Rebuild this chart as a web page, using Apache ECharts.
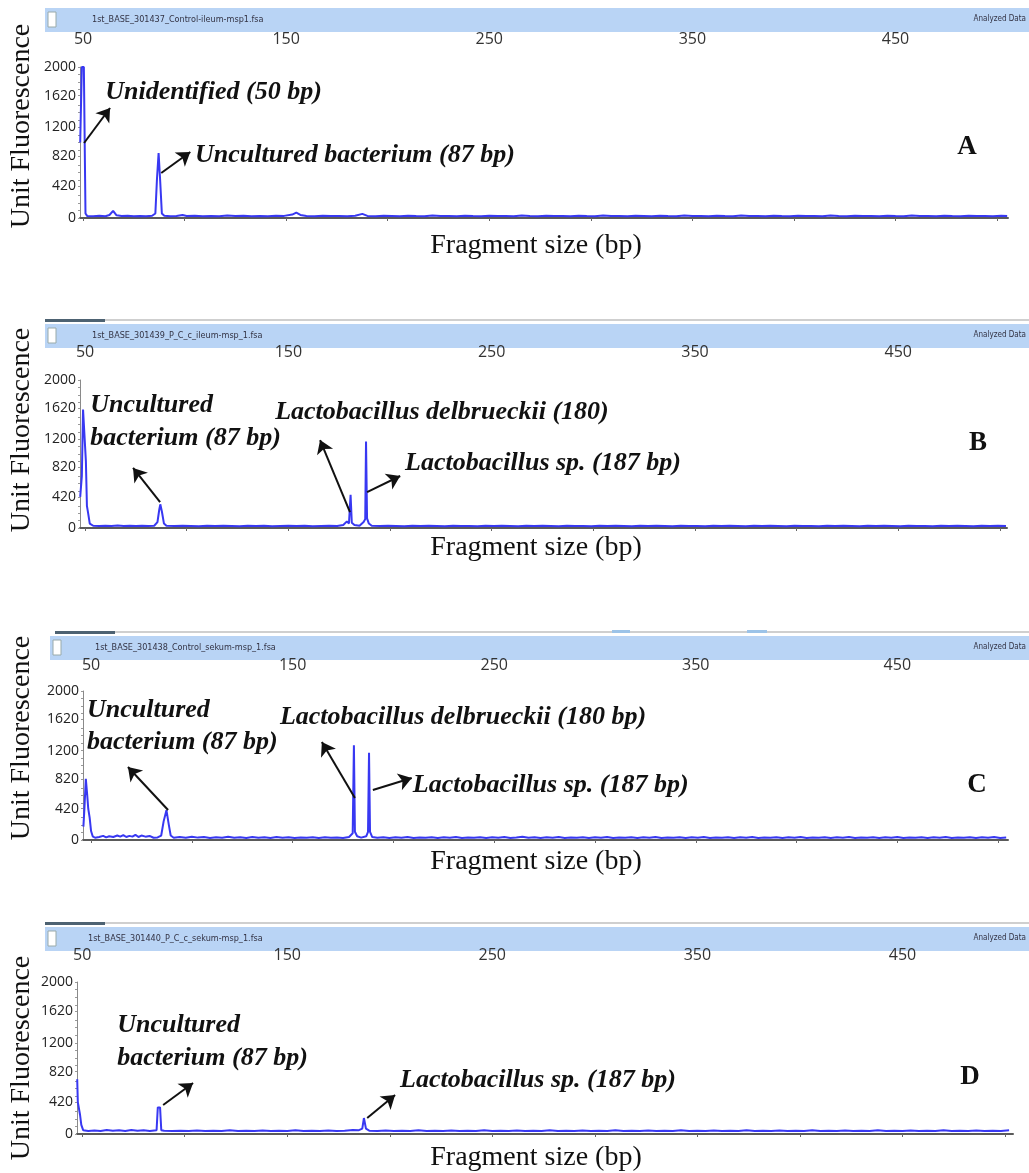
<!DOCTYPE html>
<html>
<head>
<meta charset="utf-8">
<title>T-RFLP electropherograms</title>
<script src="https://cdn.jsdelivr.net/npm/echarts@6/dist/echarts.min.js"></script>
<style>
  html, body { margin: 0; padding: 0; background: #fff; }
  #chart { width: 1029px; height: 1173px; }
</style>
</head>
<body>
<div id="chart"></div>
<script>
// axis values
const sizeTicks = [50, 100, 150, 200, 250, 300, 350, 400, 450, 500];
const sizeLabels = [50, 150, 250, 350, 450];
const rfuLabels = [0, 420, 820, 1200, 1620, 2000];
const rfuTicks = [0, 100, 200, 300, 420, 500, 600, 700, 820, 900, 1000, 1100, 1200, 1300, 1400, 1500,
    1620, 1700, 1800, 1900, 2000];
const panelNames = ['A', 'B', 'C', 'D'];
const fileNames = [
    '1st_BASE_301437_Control-ileum-msp1.fsa',
    '1st_BASE_301439_P_C_c_ileum-msp_1.fsa',
    '1st_BASE_301438_Control_sekum-msp_1.fsa',
    '1st_BASE_301440_P_C_c_sekum-msp_1.fsa'
];

// [fragment size (bp), unit fluorescence]
const traceA = [
    [48.6, 1000], [49.4, 2000], [50.4, 2000], [51.2, 60], [52, 28], [55, 22], [58, 30], [61, 24], [63, 40],
    [64.8, 95], [66.5, 35], [69, 26], [72, 30], [75, 22], [78, 28], [81, 24], [84, 30], [85.6, 60],
    [86.4, 520], [87.2, 860], [88, 480], [88.8, 60], [90, 30], [93, 24], [96, 28], [99, 40], [101, 26],
    [105, 30], [109, 22], [113, 28], [117, 24], [121, 32], [125, 26], [129, 30], [133, 24], [137, 28],
    [141, 22], [145, 30], [149, 28], [153, 45], [155, 70], [157, 40], [160, 28], [164, 24], [168, 30],
    [172, 26], [176, 28], [180, 22], [184, 30], [187.5, 55], [190, 28], [194, 24], [198, 30], [202, 26],
    [206, 22], [210, 30], [214, 26], [218, 24], [222, 32], [226, 25], [230, 28], [234, 22], [238, 30],
    [242, 26], [246, 24], [250, 30], [254, 26], [258, 28], [262, 22], [266, 32], [270, 26], [274, 24],
    [278, 30], [282, 25], [286, 28], [290, 22], [294, 30], [298, 26], [302, 24], [306, 32], [310, 25],
    [314, 28], [318, 24], [322, 30], [326, 26], [330, 22], [334, 30], [338, 26], [342, 24], [346, 32],
    [350, 26], [354, 28], [358, 22], [362, 30], [366, 26], [370, 24], [374, 32], [378, 25], [382, 28],
    [386, 22], [390, 30], [394, 26], [398, 24], [402, 30], [406, 25], [410, 28], [414, 22], [418, 32],
    [422, 26], [426, 24], [430, 30], [434, 25], [438, 28], [442, 22], [446, 30], [450, 26], [454, 24],
    [458, 32], [462, 25], [466, 28], [470, 22], [474, 30], [478, 26], [482, 24], [486, 30], [490, 25],
    [494, 28], [498, 22], [502, 30], [505, 26]
];
const traceB = [
    [47.6, 420], [48.4, 700], [49, 1600], [49.8, 1600], [50.4, 900], [50.9, 300], [51.5, 200], [52.3, 60],
    [54, 30], [57, 26], [60, 32], [63, 28], [66, 34], [69, 26], [72, 30], [75, 28], [78, 32], [81, 26],
    [84, 30], [85.6, 80], [86.5, 250], [87, 320], [87.8, 220], [88.8, 60], [90, 30], [94, 26], [98, 32],
    [102, 28], [106, 24], [110, 30], [114, 26], [118, 32], [122, 28], [126, 24], [130, 30], [134, 26],
    [138, 30], [142, 24], [146, 28], [150, 32], [154, 26], [158, 30], [162, 24], [166, 28], [170, 32],
    [174, 26], [177, 40], [178.8, 90], [179.8, 60], [180.6, 450], [181.2, 70], [182.5, 40], [185, 30],
    [187, 80], [187.8, 120], [188.2, 1170], [188.7, 130], [189.6, 60], [191, 30], [195, 26], [199, 32],
    [203, 28], [207, 24], [211, 30], [215, 26], [219, 32], [223, 28], [227, 24], [231, 30], [235, 26],
    [239, 28], [243, 22], [247, 30], [251, 26], [255, 32], [259, 28], [263, 24], [267, 30], [271, 26],
    [275, 32], [279, 28], [283, 24], [287, 30], [291, 26], [295, 28], [299, 22], [303, 30], [307, 26],
    [311, 32], [315, 28], [319, 24], [323, 30], [327, 26], [331, 32], [335, 28], [339, 24], [343, 30],
    [347, 26], [351, 28], [355, 22], [359, 30], [363, 26], [367, 32], [371, 28], [375, 24], [379, 30],
    [383, 26], [387, 32], [391, 28], [395, 24], [399, 30], [403, 26], [407, 28], [411, 22], [415, 30],
    [419, 26], [423, 32], [427, 28], [431, 24], [435, 30], [439, 26], [443, 32], [447, 28], [451, 24],
    [455, 30], [459, 26], [463, 28], [467, 22], [471, 30], [475, 26], [479, 32], [483, 28], [487, 24],
    [491, 30], [495, 26], [499, 32], [503, 28]
];
const traceC = [
    [46.2, 180], [46.7, 420], [47.4, 820], [48.1, 600], [48.6, 420], [49.3, 300], [50, 120], [50.8, 50],
    [52, 30], [54, 40], [56, 55], [57.5, 35], [59, 50], [61, 40], [63, 60], [64.5, 45], [66, 65],
    [67.5, 40], [69, 55], [70.5, 45], [72, 70], [73.5, 40], [75, 60], [77, 45], [79, 55], [81, 30],
    [83, 35], [84.8, 60], [86, 250], [87.4, 400], [88.6, 200], [89.5, 60], [91, 30], [94, 40], [97, 30],
    [100, 45], [103, 32], [106, 40], [109, 28], [112, 36], [115, 30], [118, 44], [121, 30], [124, 38],
    [127, 28], [130, 40], [133, 30], [136, 36], [139, 28], [142, 40], [145, 30], [148, 36], [151, 26],
    [154, 34], [157, 30], [160, 38], [163, 28], [166, 36], [169, 30], [172, 34], [175, 28], [178, 40],
    [179.8, 90], [180.4, 1270], [180.9, 110], [182, 50], [184, 32], [186.5, 50], [187.4, 110],
    [187.9, 1170], [188.4, 110], [189.5, 40], [192, 30], [195, 38], [198, 28], [201, 36], [204, 30],
    [207, 40], [210, 28], [213, 34], [216, 30], [219, 38], [222, 28], [225, 36], [228, 30], [231, 40],
    [234, 28], [237, 34], [240, 30], [243, 38], [246, 28], [249, 36], [252, 30], [255, 40], [258, 28],
    [261, 34], [264, 44], [267, 30], [270, 38], [273, 28], [276, 36], [279, 30], [282, 40], [285, 28],
    [288, 34], [291, 30], [294, 38], [297, 28], [300, 36], [303, 30], [306, 40], [309, 28], [312, 34],
    [315, 30], [318, 38], [321, 28], [324, 36], [327, 30], [330, 40], [333, 28], [336, 34], [339, 30],
    [342, 38], [345, 28], [348, 36], [351, 30], [354, 40], [357, 28], [360, 34], [363, 30], [366, 38],
    [369, 28], [372, 36], [375, 30], [378, 40], [381, 28], [384, 34], [387, 30], [390, 38], [393, 28],
    [396, 36], [399, 30], [402, 40], [405, 28], [408, 34], [411, 30], [414, 38], [417, 28], [420, 36],
    [423, 30], [426, 40], [429, 28], [432, 34], [435, 30], [438, 38], [441, 28], [444, 36], [447, 30],
    [450, 40], [453, 28], [456, 34], [459, 30], [462, 38], [465, 28], [468, 36], [471, 30], [474, 40],
    [477, 28], [480, 34], [483, 30], [486, 38], [489, 28], [492, 36], [495, 30], [498, 40], [501, 28],
    [504, 34]
];
const traceD = [
    [47.6, 720], [47.9, 420], [48.6, 420], [49, 250], [49.6, 120], [50.5, 50], [53, 40], [56, 46],
    [59, 40], [62, 52], [65, 42], [68, 48], [71, 40], [74, 52], [77, 44], [80, 48], [83, 40], [86.3, 50],
    [86.9, 350], [88, 350], [88.6, 50], [90, 42], [94, 38], [98, 44], [102, 40], [106, 46], [110, 38],
    [114, 44], [118, 40], [122, 48], [126, 38], [130, 44], [134, 40], [138, 46], [142, 38], [146, 42],
    [150, 40], [154, 48], [158, 38], [162, 44], [166, 40], [170, 46], [174, 38], [178, 42], [182, 52],
    [185, 50], [186.6, 70], [187.4, 210], [188.4, 70], [190, 44], [194, 40], [198, 46], [202, 38],
    [206, 44], [210, 40], [214, 48], [218, 38], [222, 44], [226, 40], [230, 46], [234, 38], [238, 42],
    [242, 40], [246, 48], [250, 38], [254, 44], [258, 40], [262, 46], [266, 38], [270, 42], [274, 40],
    [278, 48], [282, 38], [286, 44], [290, 40], [294, 46], [298, 38], [302, 42], [306, 40], [310, 48],
    [314, 38], [318, 44], [322, 40], [326, 46], [330, 38], [334, 42], [338, 40], [342, 48], [346, 38],
    [350, 44], [354, 40], [358, 46], [362, 38], [366, 42], [370, 40], [374, 48], [378, 38], [382, 44],
    [386, 40], [390, 46], [394, 38], [398, 42], [402, 40], [406, 48], [410, 38], [414, 44], [418, 40],
    [422, 46], [426, 38], [430, 42], [434, 40], [438, 48], [442, 38], [446, 44], [450, 40], [454, 46],
    [458, 38], [462, 42], [466, 40], [470, 48], [474, 38], [478, 44], [482, 40], [486, 46], [490, 38],
    [494, 42], [498, 40], [502, 48]
];

// peak labels, anchored at their left edge
const notesA = [
    {text: 'Unidentified (50 bp)', at: [60.9, 1669]},
    {text: 'Uncultured bacterium (87 bp)', at: [105.1, 834]}
];
const notesB = [
    {text: 'Uncultured', at: [52.5, 1662]},
    {text: 'bacterium (87 bp)', at: [52.5, 1216]},
    {text: 'Lactobacillus delbrueckii (180)', at: [143.5, 1567]},
    {text: 'Lactobacillus sp. (187 bp)', at: [207.4, 878]}
];
const notesC = [
    {text: 'Uncultured', at: [48, 1745]},
    {text: 'bacterium (87 bp)', at: [48, 1315]},
    {text: 'Lactobacillus delbrueckii (180 bp)', at: [143.7, 1651]},
    {text: 'Lactobacillus sp. (187 bp)', at: [209.6, 738]}
];
const notesD = [
    {text: 'Uncultured', at: [67.1, 1434]},
    {text: 'bacterium (87 bp)', at: [67.1, 1000]},
    {text: 'Lactobacillus sp. (187 bp)', at: [205, 711]}
];

// arrows: [from peak, to label]
const arrowsA = [[[50.5, 993], [63.3, 1457]], [[88.5, 596], [102.8, 874]]];
const arrowsB = [[[86.9, 351], [73.6, 811]], [[180.3, 216], [165.6, 1189]], [[188.7, 486], [205, 703]]];
const arrowsC = [[[88.2, 403], [68.3, 980]], [[180.9, 564], [164.5, 1315]], [[189.8, 671], [209.1, 832]]];
const arrowsD = [[[89.5, 382], [104.1, 671]], [[189, 211], [202.6, 513]]];

const traces = [traceA, traceB, traceC, traceD];
const notes = [notesA, notesB, notesC, notesD];
const arrows = [arrowsA, arrowsB, arrowsC, arrowsD];

// page layout of each panel (pixels)
const panels = [
    {left: 80, top: 67, width: 928, height: 151, offset: 7, min: 48.5, max: 505.4,
        bar: [45, 8], strip: null, file: 92, letter: [967, 147], yTitle: 126, xTitle: 246},
    {left: 80, top: 380, width: 927, height: 148, offset: 7, min: 47.5, max: 503.5,
        bar: [45, 324], strip: [45, 320], file: 92, letter: [978, 443], yTitle: 430, xTitle: 548},
    {left: 83, top: 691, width: 925, height: 149, offset: 5, min: 46.0, max: 504.9,
        bar: [50, 636], strip: [55, 632], file: 95, letter: [977, 785], yTitle: 738, xTitle: 862},
    {left: 77, top: 982, width: 936, height: 152, offset: 6, min: 47.5, max: 503.9,
        bar: [45, 927], strip: [45, 923], file: 88, letter: [970, 1077], yTitle: 1058, xTitle: 1158}
];

const serif = '"Liberation Serif", "Times New Roman", serif';
const sans = '"Open Sans", "Noto Sans", sans-serif';
const lineBlue = '#3838f2';

const panelGraphics = (p, i) => {
    const items = [];
    if (p.strip) {
        items.push({type: 'rect', shape: {x: p.strip[0], y: p.strip[1] - 1, width: 1029 - p.strip[0], height: 2},
            style: {fill: '#cfcfcf'}});
        items.push({type: 'rect', shape: {x: p.strip[0], y: p.strip[1] - 1, width: 60, height: 3},
            style: {fill: '#4d6272'}});
    }
    items.push({type: 'rect', shape: {x: p.bar[0], y: p.bar[1], width: 1029 - p.bar[0], height: 24},
        style: {fill: '#b9d4f5'}});
    items.push({type: 'rect', shape: {x: p.bar[0] + 3, y: p.bar[1] + 4, width: 8, height: 15},
        style: {fill: '#fff', stroke: '#9aa', lineWidth: 1}});
    items.push({type: 'text', x: p.file, y: p.bar[1] + 12,
        style: {text: fileNames[i], font: '9px "DejaVu Sans Condensed", "DejaVu Sans", sans-serif',
            fill: '#334', textVerticalAlign: 'middle'}});
    items.push({type: 'text', x: 1026, y: p.bar[1] + 11,
        style: {text: 'Analyzed Data', font: '8px "DejaVu Sans Condensed", "DejaVu Sans", sans-serif',
            fill: '#334', textAlign: 'right', textVerticalAlign: 'middle'}});
    items.push({type: 'text', x: 22, y: p.yTitle, rotation: Math.PI / 2,
        style: {text: 'Unit Fluorescence', font: '28px ' + serif, fill: '#111',
            textAlign: 'center', textVerticalAlign: 'middle'}});
    items.push({type: 'text', x: 536, y: p.xTitle,
        style: {text: 'Fragment size (bp)', font: '28px ' + serif, fill: '#111',
            textAlign: 'center', textVerticalAlign: 'middle'}});
    items.push({type: 'text', x: p.letter[0], y: p.letter[1],
        style: {text: panelNames[i], font: 'bold 27px ' + serif, fill: '#111',
            textAlign: 'center', textVerticalAlign: 'middle'}});
    return items;
};

// little scroll marks on the C strip
const extraGraphics = [
    {type: 'rect', shape: {x: 612, y: 630, width: 18, height: 3}, style: {fill: '#9cc3e8'}},
    {type: 'rect', shape: {x: 747, y: 630, width: 20, height: 3}, style: {fill: '#9cc3e8'}}
];

const option = {
    backgroundColor: '#fff',
    animation: false,
    grid: panels.map(p => ({left: p.left, top: p.top, width: p.width, height: p.height})),
    xAxis: panels.map((p, i) => ({
        type: 'value',
        gridIndex: i,
        position: 'top',
        offset: p.offset,
        min: p.min,
        max: p.max,
        axisLine: {show: true, lineStyle: {color: '#5a5a5a', width: 2}},
        axisTick: {show: true, inside: true, length: 3, customValues: sizeTicks,
            lineStyle: {color: '#666', width: 1}},
        axisLabel: {customValues: sizeLabels, margin: 13, fontSize: 16, color: '#333', fontFamily: sans},
        splitLine: {show: false}
    })),
    yAxis: panels.map((p, i) => ({
        type: 'value',
        gridIndex: i,
        min: 0,
        max: 2000,
        axisLine: {show: true, lineStyle: {color: '#8a8a8a', width: 1}},
        axisTick: {show: true, length: 2, customValues: rfuTicks, lineStyle: {color: '#999'}},
        axisLabel: {customValues: rfuLabels, margin: 4, fontSize: 14, color: '#222', fontFamily: sans,
            formatter: v => String(v)},
        splitLine: {show: false}
    })),
    series: panels.map((p, i) => ({
        type: 'line',
        xAxisIndex: i,
        yAxisIndex: i,
        data: traces[i],
        symbol: 'none',
        silent: true,
        lineStyle: {color: lineBlue, width: 2},
        itemStyle: {color: lineBlue},
        markLine: {
            silent: true,
            symbol: ['none', 'arrow'],
            symbolSize: 13,
            label: {show: false},
            lineStyle: {color: '#111', width: 2, type: 'solid'},
            data: arrows[i].map(a => [{coord: a[0]}, {coord: a[1]}])
        },
        markPoint: {
            silent: true,
            data: notes[i].map(n => ({
                coord: n.at,
                symbol: 'circle',
                symbolSize: 0,
                label: {
                    show: true,
                    position: 'right',
                    distance: 0,
                    formatter: n.text,
                    fontFamily: serif,
                    fontStyle: 'italic',
                    fontWeight: 'bold',
                    fontSize: 26,
                    color: '#111'
                }
            }))
        }
    })),
    graphic: panels.map(panelGraphics).flat().concat(extraGraphics)
};

const chart = echarts.init(document.getElementById('chart'));
chart.setOption(option);
</script>
</body>
</html>
